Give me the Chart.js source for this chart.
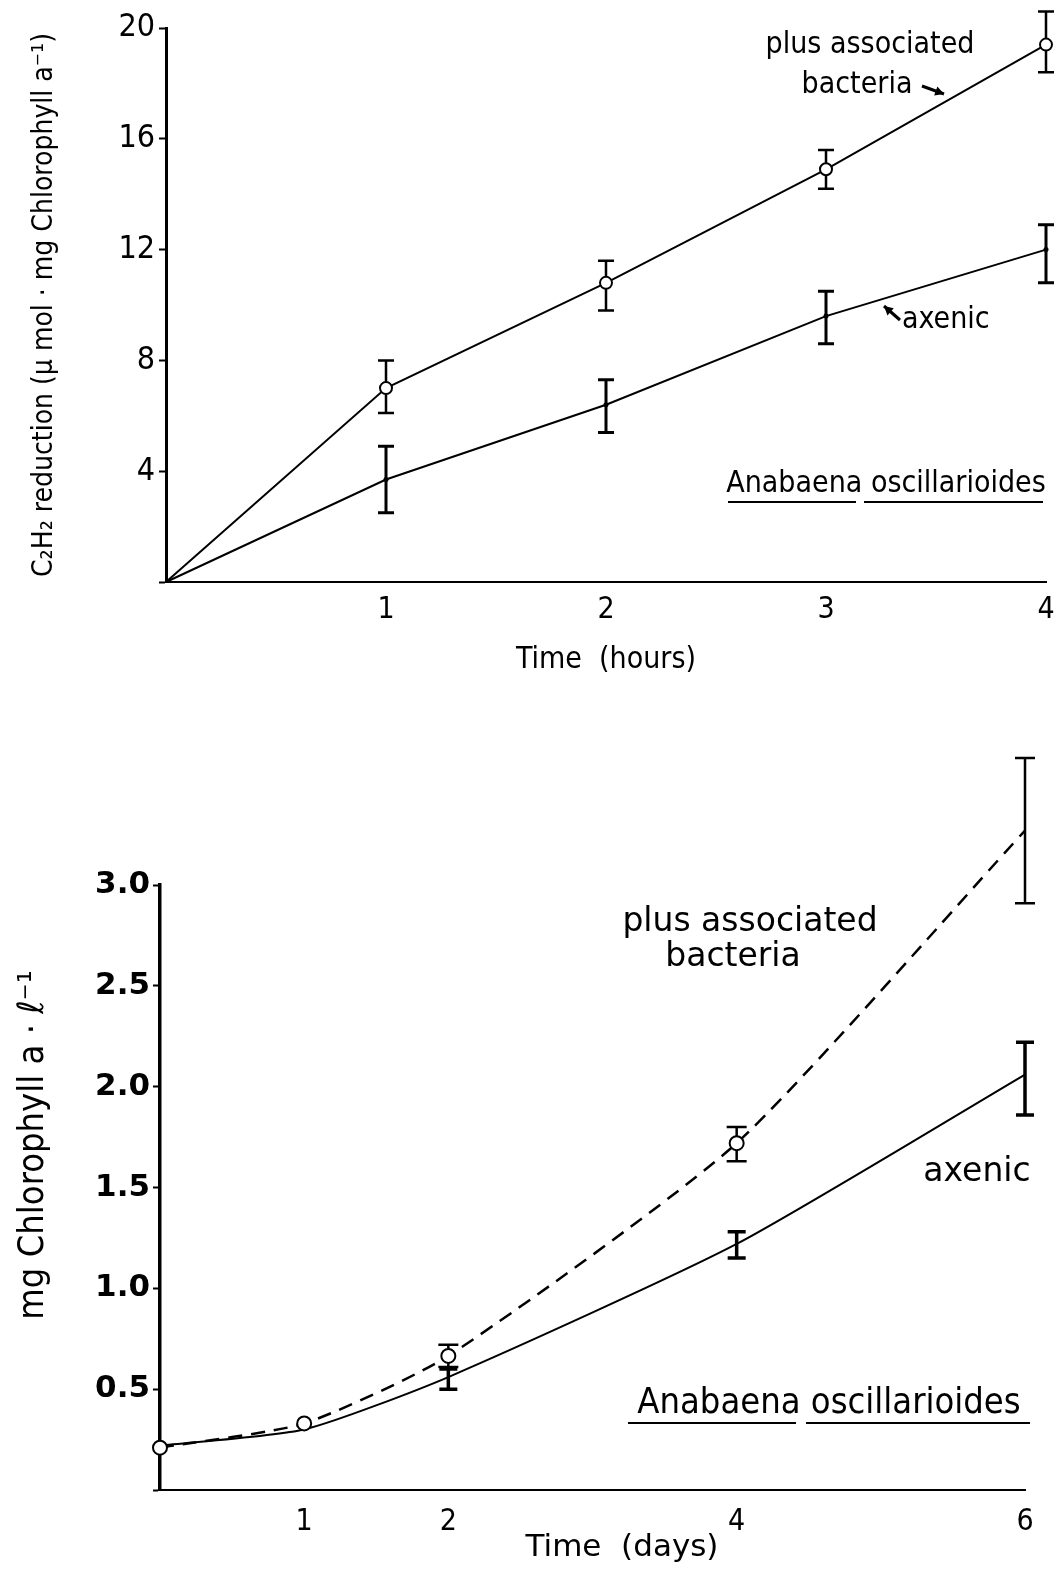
<!DOCTYPE html>
<html>
<head>
<meta charset="utf-8">
<script src="https://cdn.jsdelivr.net/npm/chart.js@4.4.1/dist/chart.umd.min.js"></script>
<style>
  html, body { margin: 0; padding: 0; background: #fff; }
  body { width: 1057px; height: 1573px; position: relative; overflow: hidden; }
  canvas { position: absolute; left: 0; }
  #topChart { top: 0; }
  #bottomChart { top: 720px; }
</style>
</head>
<body>
<canvas id="topChart" width="1057" height="700"></canvas>
<canvas id="bottomChart" width="1057" height="853"></canvas>
<script>
// --- Top panel: C2H2 reduction vs time (hours)
const hours = [0, 1, 2, 3, 4];
const plusHours = [0, 7.0, 10.8, 14.9, 19.4];
const plusHoursLow = [null, 6.1, 9.8, 14.2, 18.4];
const plusHoursHigh = [null, 8.0, 11.6, 15.6, 20.6];
const axenicHours = [0, 3.7, 6.4, 9.6, 12.0];
const axenicHoursLow = [null, 2.5, 5.4, 8.6, 10.8];
const axenicHoursHigh = [null, 4.9, 7.3, 10.5, 12.9];

// --- Bottom panel: chlorophyll vs time (days)
const days = [0, 1, 2, 4, 6];
const dayTicks = [1, 2, 4, 6];
const plusDays = [0.21, 0.33, 0.665, 1.72, 3.27];
const plusDaysLow = [null, null, 0.61, 1.63, 2.91];
const plusDaysHigh = [null, null, 0.72, 1.80, 3.63];
const axenicDays = [0.22, 0.30, 0.56, 1.22, 2.06];
const axenicDaysLow = [null, null, 0.50, 1.15, 1.86];
const axenicDaysHigh = [null, null, 0.60, 1.28, 2.22];

const COND = '"DejaVu Sans Condensed", "Liberation Sans Narrow", "DejaVu Sans", sans-serif';
const WIDE = '"DejaVu Sans", "Liberation Sans", sans-serif';

Chart.defaults.color = '#000';
Chart.defaults.animation = false;

function points(xs, ys) {
    return xs.map((x, i) => ({ x: x, y: ys[i] }));
}

// error bars drawn before the datasets so open circles sit on top
const errorBars = {
    id: 'errorBars',
    beforeDatasetsDraw(chart) {
        const ctx = chart.ctx;
        const xs = chart.scales.x, ys = chart.scales.y;
        chart.data.datasets.forEach((ds) => {
            if (!ds.errLow) return;
            ctx.save();
            ctx.strokeStyle = '#000';
            ctx.lineWidth = ds.errWidth || 2;
            ds.data.forEach((p, j) => {
                const lo = ds.errLow[j], hi = ds.errHigh[j];
                if (lo == null) return;
                const x = xs.getPixelForValue(p.x);
                const y1 = ys.getPixelForValue(lo);
                const y2 = ys.getPixelForValue(hi);
                const c = ds.capHalf || 8;
                ctx.beginPath();
                ctx.moveTo(x, y1); ctx.lineTo(x, y2);
                ctx.moveTo(x - c, y1); ctx.lineTo(x + c, y1);
                ctx.moveTo(x - c, y2); ctx.lineTo(x + c, y2);
                ctx.stroke();
            });
            ctx.restore();
        });
    }
};

// free text labels, underlines and small arrows (canvas pixel positions)
const notes = {
    id: 'notes',
    afterDraw(chart, args, opts) {
        const ctx = chart.ctx;
        ctx.save();
        ctx.fillStyle = '#000';
        ctx.strokeStyle = '#000';
        (opts.texts || []).forEach((t) => {
            ctx.save();
            ctx.font = t.font;
            ctx.textAlign = t.align || 'center';
            ctx.textBaseline = 'middle';
            ctx.translate(t.x, t.y);
            if (t.rotate) ctx.rotate(t.rotate);
            ctx.fillText(t.text, 0, 0);
            ctx.restore();
        });
        (opts.lines || []).forEach((l) => {
            ctx.lineWidth = l.w || 2;
            ctx.beginPath();
            ctx.moveTo(l.x1, l.y1); ctx.lineTo(l.x2, l.y2);
            ctx.stroke();
        });
        (opts.arrows || []).forEach((a) => {
            const ang = Math.atan2(a.y2 - a.y1, a.x2 - a.x1);
            ctx.lineWidth = 3;
            ctx.beginPath();
            ctx.moveTo(a.x1, a.y1); ctx.lineTo(a.x2, a.y2);
            ctx.stroke();
            ctx.beginPath();
            ctx.moveTo(a.x2, a.y2);
            ctx.lineTo(a.x2 - 10 * Math.cos(ang - 0.5), a.y2 - 10 * Math.sin(ang - 0.5));
            ctx.lineTo(a.x2 - 10 * Math.cos(ang + 0.5), a.y2 - 10 * Math.sin(ang + 0.5));
            ctx.closePath();
            ctx.fill();
        });
        ctx.restore();
    }
};

new Chart(document.getElementById('topChart'), {
    type: 'line',
    data: {
        datasets: [{
            label: 'plus associated bacteria',
            data: points(hours, plusHours),
            errLow: plusHoursLow, errHigh: plusHoursHigh, errWidth: 2.5, capHalf: 8,
            borderColor: '#000', borderWidth: 2, tension: 0, clip: false,
            pointRadius: [0, 6, 6, 6, 6], pointBackgroundColor: '#fff',
            pointBorderColor: '#000', pointBorderWidth: 2,
        }, {
            label: 'axenic',
            data: points(hours, axenicHours),
            errLow: axenicHoursLow, errHigh: axenicHoursHigh, errWidth: 3, capHalf: 8,
            borderColor: '#000', borderWidth: 2, tension: 0, clip: false,
            pointRadius: [0, 2.5, 2.5, 2.5, 2.5], pointBackgroundColor: '#000', pointBorderWidth: 0,
        }],
    },
    options: {
        responsive: false,
        layout: { padding: { top: 28, right: 11, left: 0, bottom: 0 } },
        plugins: {
            legend: { display: false },
            tooltip: { enabled: false },
            notes: {
                texts: [
                    { text: 'plus associated', x: 870, y: 45, font: '30px ' + COND },
                    { text: 'bacteria', x: 857, y: 85, font: '30px ' + COND },
                    { text: 'axenic', x: 902, y: 320, align: 'left', font: '30px ' + COND },
                    { text: 'Anabaena oscillarioides', x: 886, y: 484, font: '30px ' + COND },
                ],
                lines: [
                    { x1: 728, y1: 502, x2: 856, y2: 502 },
                    { x1: 864, y1: 502, x2: 1043, y2: 502 },
                ],
                arrows: [
                    { x1: 922, y1: 86, x2: 944, y2: 94 },
                    { x1: 900, y1: 320, x2: 884, y2: 306 },
                ],
            },
        },
        scales: {
            x: {
                type: 'linear', min: 0, max: 4,
                afterFit: (s) => { s.height = 118; s.paddingRight = 0; s.paddingLeft = 0; },
                border: { color: '#000', width: 2 },
                grid: { drawOnChartArea: false, drawTicks: false },
                ticks: {
                    stepSize: 1, padding: 10,
                    font: { family: COND, size: 30 },
                    callback: (v) => (v === 0 ? '' : v),
                },
                title: {
                    display: true, text: 'Time  (hours)',
                    font: { family: COND, size: 30 }, padding: { top: 0, bottom: 22 },
                },
            },
            y: {
                min: 0, max: 20,
                afterFit: (s) => { s.width = 166; },
                border: { color: '#000', width: 3 },
                grid: { drawOnChartArea: false, color: '#000', tickLength: 7, tickWidth: 2 },
                ticks: {
                    stepSize: 4, padding: 4,
                    font: { family: COND, size: 32 },
                    callback: (v) => (v === 0 ? '' : v),
                },
                title: {
                    display: true, text: 'C\u2082H\u2082 reduction (\u03bc mol \u00b7 mg Chlorophyll a\u207b\u00b9)',
                    font: { family: COND, size: 28 }, padding: { top: 28, bottom: 0 },
                },
            },
        },
    },
    plugins: [errorBars, notes],
});

new Chart(document.getElementById('bottomChart'), {
    type: 'line',
    data: {
        datasets: [{
            label: 'plus associated bacteria',
            data: points(days, plusDays),
            errLow: plusDaysLow, errHigh: plusDaysHigh, errWidth: 2.5, capHalf: 10,
            borderColor: '#000', borderWidth: 2.5, borderDash: [14, 9], tension: 0.2, clip: false,
            pointRadius: 7, pointBackgroundColor: '#fff',
            pointBorderColor: '#000', pointBorderWidth: 2,
        }, {
            label: 'axenic',
            data: points(days, axenicDays),
            errLow: axenicDaysLow, errHigh: axenicDaysHigh, errWidth: 3.5, capHalf: 9,
            borderColor: '#000', borderWidth: 2, tension: 0.2, clip: false,
            pointRadius: 0,
        }],
    },
    options: {
        responsive: false,
        layout: { padding: { top: 165, right: 32, left: 0, bottom: 0 } },
        plugins: {
            legend: { display: false },
            tooltip: { enabled: false },
            notes: {
                texts: [
                    { text: 'plus associated', x: 750, y: 202, font: '33px ' + WIDE },
                    { text: 'bacteria', x: 733, y: 237, font: '33px ' + WIDE },
                    { text: 'axenic', x: 977, y: 452, font: '33px ' + WIDE },
                    { text: 'Anabaena oscillarioides', x: 829, y: 684, font: '36px ' + COND },
                    { text: 'Time  (days)', x: 622, y: 828, font: '31px ' + WIDE },
                    { text: 'mg Chlorophyll a \u00b7 \u2113\u207b\u00b9', x: 34, y: 425,
                      rotate: -Math.PI / 2, font: '36px ' + COND },
                ],
                lines: [
                    { x1: 628, y1: 703, x2: 796, y2: 703 },
                    { x1: 806, y1: 703, x2: 1030, y2: 703 },
                ],
            },
        },
        scales: {
            x: {
                type: 'linear', min: 0, max: 6,
                afterFit: (s) => { s.height = 83; },
                afterBuildTicks: (s) => { s.ticks = dayTicks.map((v) => ({ value: v })); },
                border: { color: '#000', width: 2 },
                grid: { drawOnChartArea: false, drawTicks: false },
                ticks: { padding: 14, font: { family: COND, size: 30 } },
            },
            y: {
                min: 0, max: 3,
                afterFit: (s) => { s.width = 160; },
                border: { color: '#000', width: 3.5 },
                grid: { drawOnChartArea: false, color: '#000', tickLength: 7, tickWidth: 2 },
                ticks: {
                    stepSize: 0.5, padding: 3,
                    font: { family: WIDE, size: 31, weight: 'bold' },
                    callback: (v) => (v === 0 ? '' : v.toFixed(1)),
                },
            },
        },
    },
    plugins: [errorBars, notes],
});
</script>
</body>
</html>
